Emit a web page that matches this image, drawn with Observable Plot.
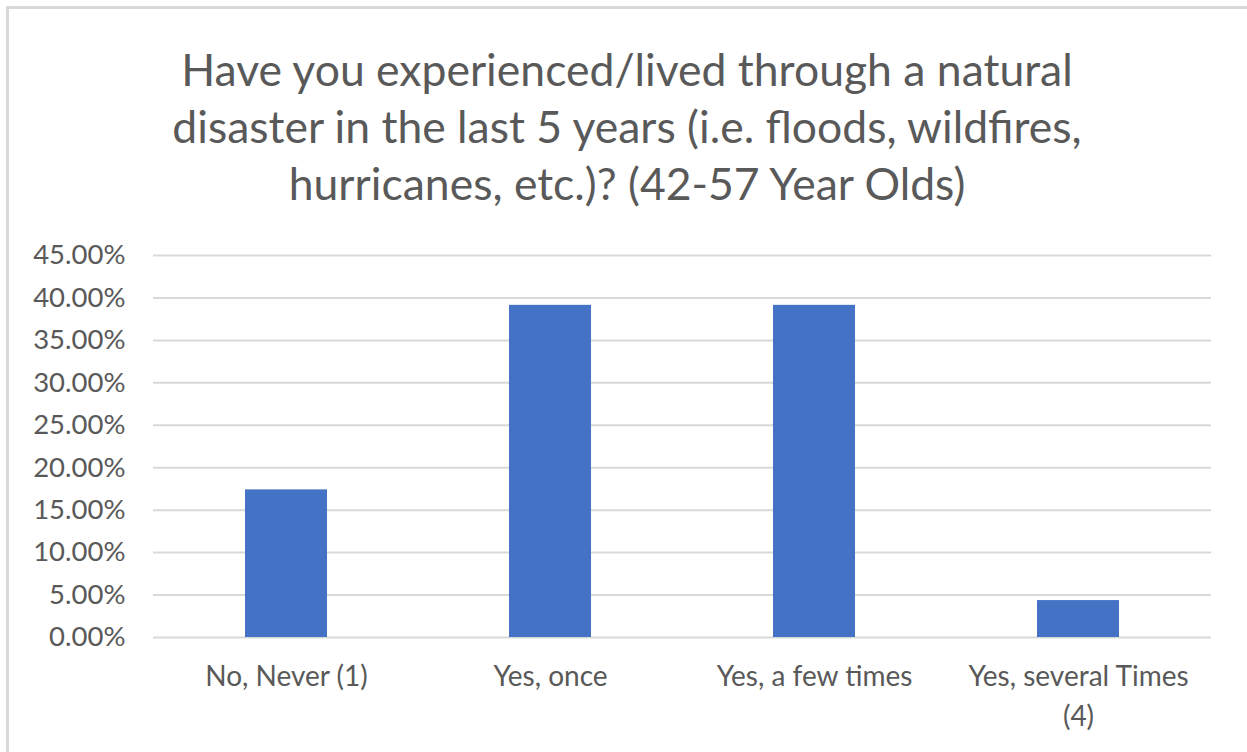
<!DOCTYPE html>
<html>
<head>
<meta charset="utf-8">
<script src="https://cdn.jsdelivr.net/npm/d3@7"></script>
<script src="https://cdn.jsdelivr.net/npm/@observablehq/plot@0.6"></script>
<style>
  html, body { margin: 0; padding: 0; background: #fff; overflow: hidden; }
  body { width: 1247px; height: 752px; position: relative; font-family: Lato, "Open Sans", sans-serif; }
  #frame { position: absolute; left: 6px; top: 6px; width: 1400px; height: 900px;
           border-left: 3px solid #d9d9d9; border-top: 3px solid #d9d9d9; }
  #title { position: absolute; left: 0; width: 1254px; top: 40px; text-align: center;
           color: #595959; font-size: 44.5px; line-height: 57px; }
  #chart { position: absolute; left: 0; top: 220px; }
</style>
</head>
<body>
<div id="frame"></div>
<div id="title">Have you experienced/lived through a natural<br>disaster in the last 5 years (i.e. floods, wildfires,<br>hurricanes, etc.)? (42-57 Year Olds)</div>
<div id="chart"></div>
<script>
const categories = ["No, Never (1)", "Yes, once", "Yes, a few times", "Yes, several Times\n(4)"];
const values = [0.1739, 0.3913, 0.3913, 0.0435];
const yTicks = [0, 0.05, 0.10, 0.15, 0.20, 0.25, 0.30, 0.35, 0.40, 0.45];

const data = categories.map((c, i) => ({category: c, value: values[i]}));

const chart = Plot.plot({
  width: 1247,
  height: 532,
  marginTop: 35,
  marginBottom: 115,
  marginLeft: 153,
  marginRight: 36,
  style: {fontFamily: "Lato, 'Open Sans', sans-serif", color: "#595959", background: "transparent"},
  x: {domain: categories, paddingInner: 0.69, paddingOuter: 0.345, label: null},
  y: {domain: [0, 0.45], label: null},
  marks: [
    Plot.gridY(yTicks, {stroke: "#d9d9d9", strokeOpacity: 1, strokeWidth: 2}),
    Plot.barY(data, {x: "category", y: "value", fill: "#4472C4"}),
    Plot.axisY(yTicks, {tickSize: 0, tickPadding: 28, tickFormat: d3.format(".2%"), fontSize: 27.5, fill: "#595959", label: null}),
    Plot.axisX({tickSize: 0, tickPadding: 21, fontSize: 28, fill: "#595959", lineHeight: 1.4, label: null})
  ]
});
document.getElementById("chart").appendChild(chart);
</script>
</body>
</html>
